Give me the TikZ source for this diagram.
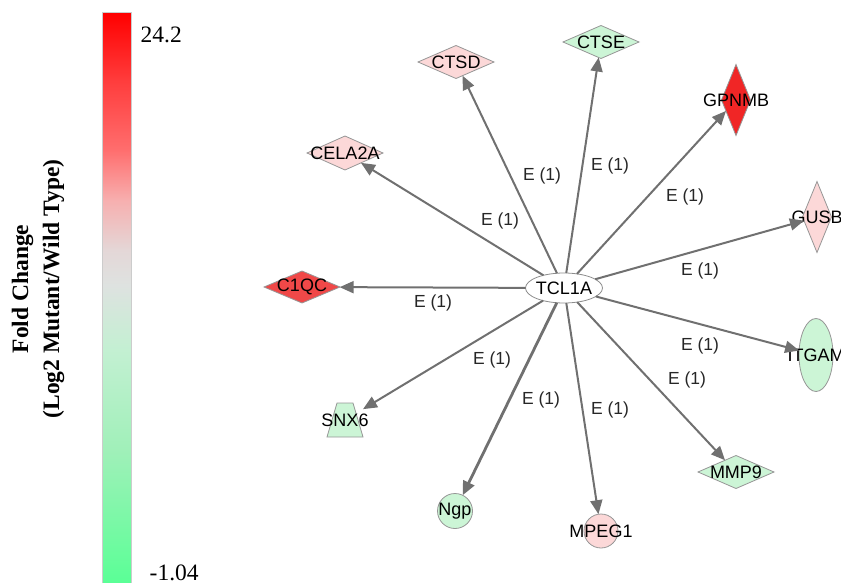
\documentclass[tikz,border=0pt]{standalone}
\usepackage{fontspec}
\usetikzlibrary{shapes.geometric,arrows.meta}
\newfontfamily\labfont{Liberation Sans}
\newfontfamily\serfont{Liberation Serif}
\definecolor{edgegray}{RGB}{112,112,112}
\definecolor{nodeborder}{RGB}{150,150,150}
\definecolor{redA}{RGB}{240,72,72}
\definecolor{redB}{RGB}{240,38,38}
\definecolor{pinkfill}{RGB}{252,216,216}
\definecolor{greenfill}{RGB}{204,245,214}
\definecolor{cb0}{RGB}{255,0,0}
\definecolor{cb1}{RGB}{255,60,60}
\definecolor{cb2}{RGB}{255,110,110}
\definecolor{cb3}{RGB}{247,175,175}
\definecolor{cb4}{RGB}{228,215,215}
\definecolor{cb5}{RGB}{222,226,224}
\definecolor{cb6}{RGB}{195,240,210}
\definecolor{cb7}{RGB}{160,240,185}
\definecolor{cb8}{RGB}{90,255,150}
\tikzset{
  gene/.style={draw=nodeborder, line width=0.8pt, inner sep=0pt, outer sep=0pt,
    label={[font=\labfont\fontsize{18}{20}\selectfont, inner sep=0pt, text=black]center:#1}},
  dia/.style={gene=#1, diamond},
  ell/.style={gene=#1, ellipse},
  circ/.style={gene=#1, circle, minimum size=34pt},
  edge/.style={draw=edgegray, line width=2pt, -{Triangle[length=14pt,width=12pt]}},
  elab/.style={font=\labfont\fontsize{17.5}{20}\selectfont, inner sep=0pt, text=black!85},
}
\begin{document}
\begin{tikzpicture}[x=1pt,y=-1pt]
\useasboundingbox (0,0) rectangle (841,583);
% colour bar
\shade[top color=cb0, bottom color=cb1] (102,13) rectangle (131,80.5);
\shade[top color=cb1, bottom color=cb2] (102,80) rectangle (131,150.5);
\shade[top color=cb2, bottom color=cb3] (102,150) rectangle (131,200.5);
\shade[top color=cb3, bottom color=cb4] (102,200) rectangle (131,250.5);
\shade[top color=cb4, bottom color=cb5] (102,250) rectangle (131,285.5);
\shade[top color=cb5, bottom color=cb6] (102,285) rectangle (131,350.5);
\shade[top color=cb6, bottom color=cb7] (102,350) rectangle (131,450.5);
\shade[top color=cb7, bottom color=cb8] (102,450) rectangle (131,583);
\draw[draw=black!20, line width=1pt] (102,583) -- (102,13) -- (131,13) -- (131,583);
\node[anchor=base west, inner sep=0pt, font=\serfont\fontsize{23.5}{28}\selectfont] (maxv) at (140.5,42.5) {24.2};
\node[anchor=base west, inner sep=0pt, font=\serfont\fontsize{23.5}{28}\selectfont] (minv) at (149.5,580) {-1.04};
\node[rotate=90, align=center, inner sep=0pt, font=\serfont\bfseries\fontsize{23.5}{31}\selectfont] (title) at (38,289) {Fold Change\\(Log2 Mutant/Wild Type)};
% nodes
\node[ell=TCL1A, fill=white, draw=black!45, minimum width=77pt, minimum height=30pt] (tcl) at (564,288) {};
\node[dia=C1QC, fill=redA, minimum width=76pt, minimum height=32pt] (c1qc) at (302,287) {};
\node[dia=CELA2A, fill=pinkfill, minimum width=76pt, minimum height=34pt] (cela) at (345,153) {};
\node[dia=CTSD, fill=pinkfill, minimum width=76pt, minimum height=33pt] (ctsd) at (456,62) {};
\node[dia=CTSE, fill=greenfill, minimum width=76pt, minimum height=33pt] (ctse) at (601,42) {};
\node[dia=GPNMB, fill=redB, minimum width=29pt, minimum height=71pt] (gpnmb) at (736,100) {};
\node[dia=GUSB, fill=pinkfill, minimum width=29pt, minimum height=71pt] (gusb) at (817,217) {};
\node[ell=ITGAM, fill=greenfill, minimum width=34pt, minimum height=73pt] (itgam) at (816,355) {};
\node[dia=MMP9, fill=greenfill, minimum width=76pt, minimum height=33pt] (mmp9) at (736,472) {};
\node[circ=MPEG1, fill=pinkfill] (mpeg) at (601,531) {};
\node[circ=Ngp, fill=greenfill, minimum size=35pt] (ngp) at (455,511) {};
% SNX6: trapezoid drawn on a box node
\node[inner sep=0pt, outer sep=0pt, minimum width=36pt, minimum height=34pt] (snx) at (345,420) {};
\filldraw[fill=greenfill, draw=nodeborder, line width=0.8pt]
  (snx.south west) -- (snx.south east) -- ([xshift=-10pt]snx.north east) -- ([xshift=10pt]snx.north west) -- cycle;
\node[font=\labfont\fontsize{18}{20}\selectfont, inner sep=0pt] (snxlab) at (snx.center) {SNX6};
% edges
\draw[edge] (tcl) -- (c1qc);
\draw[edge] (tcl) -- (cela);
\draw[edge] (tcl) -- (ctsd);
\draw[edge] (tcl) -- (ctse);
\draw[edge] (tcl) -- (gpnmb);
\draw[edge] (tcl) -- (gusb);
\draw[edge] (tcl) -- (itgam);
\draw[edge] (tcl) -- (mmp9);
\draw[edge] (tcl) -- (mpeg);
\draw[edge, line width=2.8pt] (tcl) -- (ngp);
\draw[edge] (tcl) -- (snx);
% edge labels
\node[elab] (l1) at (433,303) {E (1)};
\node[elab] (l2) at (500,221) {E (1)};
\node[elab] (l3) at (542,176) {E (1)};
\node[elab] (l4) at (610,166) {E (1)};
\node[elab] (l5) at (685,197) {E (1)};
\node[elab] (l6) at (700,271) {E (1)};
\node[elab] (l7) at (700,346) {E (1)};
\node[elab] (l8) at (687,380) {E (1)};
\node[elab] (l9) at (492,360) {E (1)};
\node[elab] (l10) at (541,400) {E (1)};
\node[elab] (l11) at (610,410) {E (1)};
\end{tikzpicture}
\end{document}
